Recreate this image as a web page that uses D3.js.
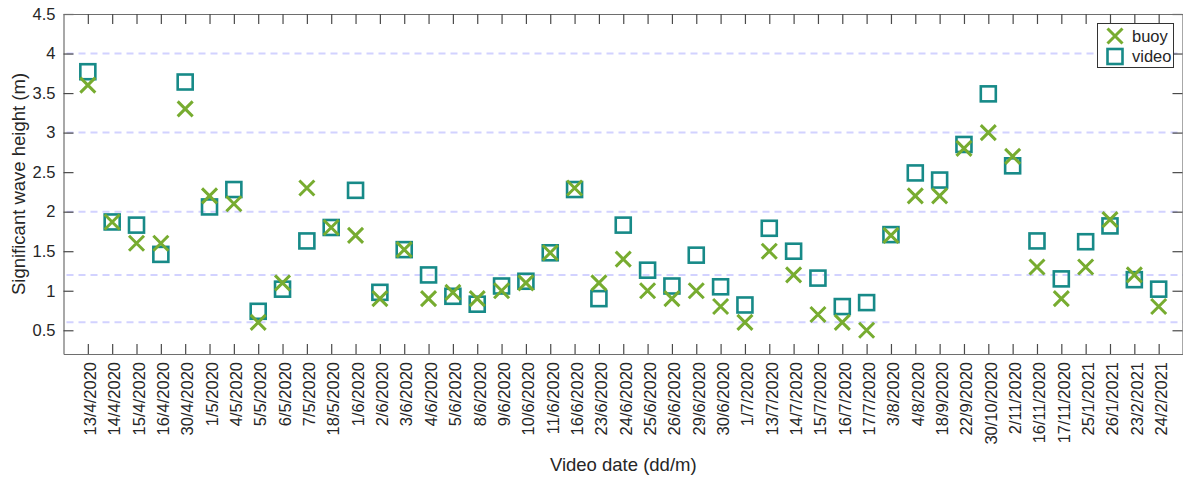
<!DOCTYPE html>
<html>
<head>
<meta charset="utf-8">
<script src="https://cdn.jsdelivr.net/npm/d3@7"></script>
<style>
  html, body { margin: 0; padding: 0; background: #fff; }
  svg { display: block; font-family: "Liberation Sans", Arial, Helvetica, sans-serif; }
</style>
</head>
<body>
<svg id="chart" width="1183" height="481"></svg>
<script>
// Survey dates (dd/m/yyyy)
const dates = [
  "13/4/2020", "14/4/2020", "15/4/2020", "16/4/2020", "30/4/2020", "1/5/2020", "4/5/2020",
  "5/5/2020", "6/5/2020", "7/5/2020", "18/5/2020", "1/6/2020", "2/6/2020", "3/6/2020",
  "4/6/2020", "5/6/2020", "8/6/2020", "9/6/2020", "10/6/2020", "11/6/2020", "16/6/2020",
  "23/6/2020", "24/6/2020", "25/6/2020", "26/6/2020", "29/6/2020", "30/6/2020", "1/7/2020",
  "13/7/2020", "14/7/2020", "15/7/2020", "16/7/2020", "17/7/2020", "3/8/2020", "4/8/2020",
  "18/9/2020", "22/9/2020", "30/10/2020", "2/11/2020", "16/11/2020", "17/11/2020",
  "25/1/2021", "26/1/2021", "23/2/2021", "24/2/2021"
];

// Significant wave height (m) measured by the buoy
const buoy = [
  3.6, 1.87, 1.6, 1.6, 3.3, 2.2, 2.1,
  0.6, 1.1, 2.3, 1.8, 1.7, 0.9, 1.52,
  0.9, 0.98, 0.9, 1.0, 1.1, 1.48, 2.3,
  1.1, 1.4, 1.0, 0.9, 1.0, 0.8, 0.6,
  1.5, 1.2, 0.7, 0.6, 0.5, 1.7, 2.2,
  2.2, 2.8, 3.0, 2.7, 1.3, 0.9,
  1.3, 1.9, 1.2, 0.8
];

// Significant wave height (m) estimated from video
const video = [
  3.77, 1.87, 1.83, 1.46, 3.64, 2.06, 2.28,
  0.74, 1.02, 1.63, 1.8, 2.27, 0.98, 1.52,
  1.2, 0.93, 0.83, 1.06, 1.12, 1.48, 2.28,
  0.9, 1.83, 1.26, 1.06, 1.45, 1.05, 0.82,
  1.79, 1.5, 1.16, 0.8, 0.85, 1.71, 2.49,
  2.4, 2.85, 3.49, 2.58, 1.63, 1.15,
  1.62, 1.82, 1.14, 1.02
];

// Axis ticks and reference levels
const yTicks = [0.5, 1, 1.5, 2, 2.5, 3, 3.5, 4, 4.5];
const refLevels = [0.6, 1.2, 2, 3, 4];
const seriesNames = ["buoy", "video"];

const svg = d3.select("#chart");
const plotLeft = 63.5, plotRight = 1183, plotTop = 14, plotBottom = 354;
const green = "#77ac30", teal = "#178a88";
const tickLen = 10;

const x = d3.scaleLinear().domain([0, dates.length + 1]).range([plotLeft, plotRight]);
const y = d3.scaleLinear().domain([0.2, 4.5]).range([plotBottom, plotTop]);
const idx = d3.range(1, dates.length + 1);

// dashed reference lines
svg.append("g").selectAll("line").data(refLevels).join("line")
  .attr("x1", plotLeft + 3).attr("x2", plotRight)
  .attr("y1", d => y(d)).attr("y2", d => y(d))
  .attr("stroke", "#d2d2ff").attr("stroke-width", 2)
  .attr("stroke-dasharray", "7,5");

// left axis with labels
const yAxis = svg.append("g").attr("transform", `translate(${plotLeft},0)`)
  .call(d3.axisLeft(y).tickValues(yTicks).tickSizeInner(-tickLen).tickSizeOuter(0)
    .tickPadding(8).tickFormat(d3.format("")));
// right axis without labels
const yAxisR = svg.append("g").attr("transform", `translate(${plotRight - 0.5},0)`)
  .call(d3.axisRight(y).tickValues(yTicks).tickSizeInner(-tickLen).tickSizeOuter(0)
    .tickFormat(""));
// bottom axis with rotated date labels
const xAxis = svg.append("g").attr("transform", `translate(0,${plotBottom})`)
  .call(d3.axisBottom(x).tickValues(idx).tickSizeInner(-tickLen).tickSizeOuter(0)
    .tickFormat(i => dates[i - 1]));
// top axis without labels
const xAxisT = svg.append("g").attr("transform", `translate(0,${plotTop})`)
  .call(d3.axisTop(x).tickValues(idx).tickSizeInner(-tickLen).tickSizeOuter(0)
    .tickFormat(""));

[yAxis, yAxisR, xAxis, xAxisT].forEach(g => {
  g.select(".domain").attr("stroke", "#6e6e6e").attr("stroke-width", 1.2);
  g.selectAll(".tick line").attr("stroke", "#4a4a4a").attr("stroke-width", 1.2);
  g.selectAll("text").attr("fill", "#262626").attr("font-size", "16.5px")
    .attr("font-family", "'Liberation Sans', Arial, sans-serif");
});

xAxis.selectAll(".tick text")
  .attr("text-anchor", "end")
  .attr("transform", "translate(2,8) rotate(-90)")
  .attr("x", 0).attr("y", 0).attr("dy", "0.35em");

// axis titles
svg.append("text")
  .attr("x", (plotLeft + plotRight) / 2).attr("y", 471)
  .attr("text-anchor", "middle").attr("font-size", "18.5px").attr("fill", "#262626")
  .text("Video date (dd/m)");
svg.append("text")
  .attr("transform", `translate(25,${(plotTop + plotBottom) / 2}) rotate(-90)`)
  .attr("text-anchor", "middle").attr("font-size", "18.5px").attr("fill", "#262626")
  .text("Significant wave height (m)");

// marker helpers
const xr = 7.5, sq = 15;
function crossPath(cx, cy) {
  return `M${cx - xr},${cy - xr}L${cx + xr},${cy + xr}M${cx - xr},${cy + xr}L${cx + xr},${cy - xr}`;
}

// video squares
svg.append("g").selectAll("rect").data(video).join("rect")
  .attr("x", (d, i) => x(i + 1) - sq / 2).attr("y", d => y(d) - sq / 2)
  .attr("width", sq).attr("height", sq)
  .attr("fill", "none").attr("stroke", teal).attr("stroke-width", 2.6);

// buoy crosses
svg.append("g").selectAll("path").data(buoy).join("path")
  .attr("d", (d, i) => crossPath(x(i + 1), y(d)))
  .attr("fill", "none").attr("stroke", green).attr("stroke-width", 3);

// legend
const lg = svg.append("g");
lg.append("rect").attr("x", 1097.5).attr("y", 23.5).attr("width", 76).attr("height", 44)
  .attr("fill", "#fff").attr("stroke", "#333").attr("stroke-width", 1);
lg.append("path").attr("d", crossPath(1115, 36))
  .attr("fill", "none").attr("stroke", green).attr("stroke-width", 3);
lg.append("rect").attr("x", 1115 - sq / 2).attr("y", 56.5 - sq / 2).attr("width", sq).attr("height", sq)
  .attr("fill", "none").attr("stroke", teal).attr("stroke-width", 2.6);
lg.selectAll("text").data(seriesNames).join("text")
  .attr("x", 1132).attr("y", (d, i) => 42 + i * 20)
  .attr("font-size", "16.5px").attr("fill", "#262626")
  .text(d => d);
</script>
</body>
</html>
